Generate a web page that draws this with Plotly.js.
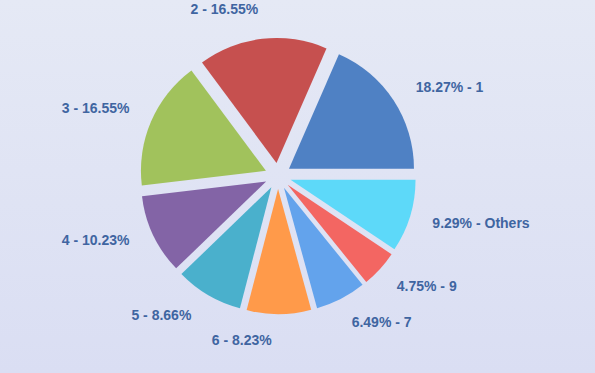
<!DOCTYPE html>
<html>
<head>
<meta charset="utf-8">
<script src="https://cdn.plot.ly/plotly-3.0.1.min.js"></script>
<style>
  html, body { margin: 0; padding: 0; }
  body { width: 595px; height: 373px; overflow: hidden;
         background: linear-gradient(to bottom, #E5E9F5 0%, #DADEF3 100%); }
  #chart { width: 595px; height: 373px; }
</style>
</head>
<body>
<div id="chart"></div>
<script>
// ---- data ----
const categories = ["1", "2", "3", "4", "5", "6", "7", "9", "Others"];
const shares = [18.27, 16.55, 16.55, 10.23, 8.66, 8.23, 6.49, 4.75, 9.29];
const sliceColors = ["#4F81C4", "#C6504F", "#A1C25C", "#8364A6", "#4AB0CC",
                     "#FF9A4A", "#63A3EC", "#F36662", "#5DD9F9"];

const total = shares.reduce((a, b) => a + b, 0);
// Plotly's counterclockwise mode ends the first slice at the rotation angle;
// shift so the first slice starts at 3 o'clock.
const startRotation = 90 - 360 * shares[0] / total;
const labelNudge = 1; // degrees, labels' angular reference

// ---- label text: right-side slices "pct% - name", left-side "name - pct%" ----
let cum = 0;
const labelText = shares.map((v, i) => {
  const mid = (cum + v / 2) / total * 2 * Math.PI - labelNudge * Math.PI / 180;
  cum += v;
  const pct = v.toFixed(2) + "%";
  return Math.cos(mid) >= 0 ? pct + " - " + categories[i] : categories[i] + " - " + pct;
});

const pieTrace = {
  type: "pie",
  labels: categories,
  values: shares,
  sort: false,
  direction: "counterclockwise",
  rotation: startRotation,
  pull: 0.105,
  marker: { colors: sliceColors, line: { width: 0 } },
  textinfo: "none",
  hoverinfo: "skip",
  domain: { x: [0.1172, 0.8172], y: [0.1579, 0.8985] }
};

const labelTrace = {
  type: "pie",
  labels: categories,
  values: shares,
  sort: false,
  direction: "counterclockwise",
  rotation: startRotation + labelNudge,
  marker: { colors: categories.map(() => "rgba(0,0,0,0)"), line: { width: 0 } },
  text: labelText,
  textinfo: "text",
  textposition: "outside",
  outsidetextfont: { family: "Liberation Sans, Arial, sans-serif", size: 14, color: "#3F65A1", weight: "bold" },
  hoverinfo: "skip",
  domain: { x: [0.1172, 0.8172], y: [0.1100, 0.9572] }
};

const layout = {
  width: 595,
  height: 373,
  margin: { l: 0, r: 0, t: 0, b: 0 },
  paper_bgcolor: "rgba(0,0,0,0)",
  plot_bgcolor: "rgba(0,0,0,0)",
  showlegend: false
};

Plotly.newPlot("chart", [pieTrace, labelTrace], layout, { displayModeBar: false, staticPlot: true });
</script>
</body>
</html>
